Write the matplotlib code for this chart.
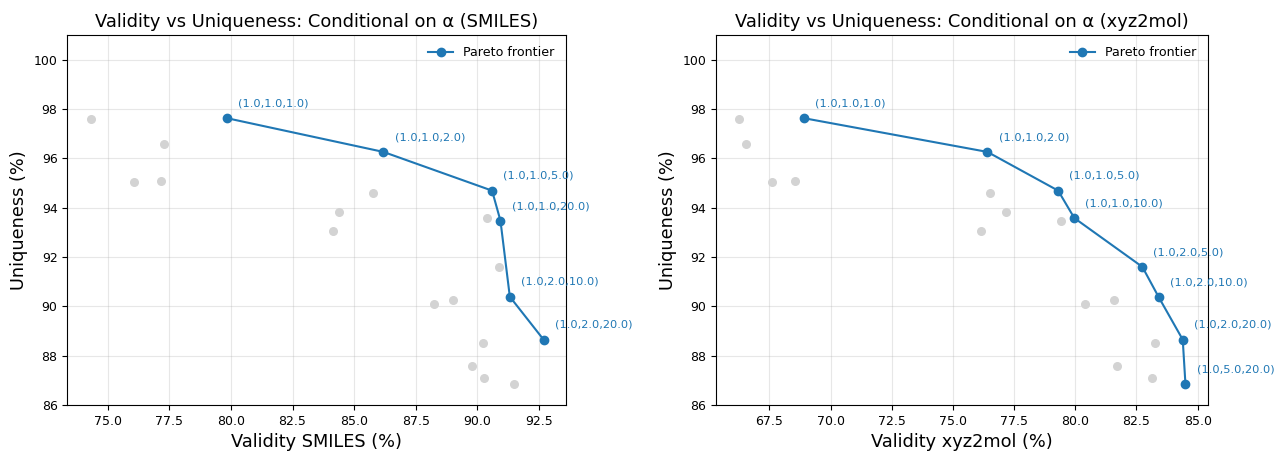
import matplotlib
matplotlib.use("Agg")
import matplotlib.pyplot as plt

BLUE = "#1f77b4"
GRAY = "#d3d3d3"

# SMILES panel
smiles_pareto_x = [79.83, 86.19, 90.60, 90.94, 91.32, 92.69]
smiles_pareto_y = [97.63, 96.26, 94.69, 93.47, 90.39, 88.65]
smiles_pareto_labels = ["(1.0,1.0,1.0)", "(1.0,1.0,2.0)", "(1.0,1.0,5.0)",
                        "(1.0,1.0,20.0)", "(1.0,2.0,10.0)", "(1.0,2.0,20.0)"]
smiles_other_x = [74.31, 77.27, 76.08, 77.15, 85.76, 84.39, 84.16, 90.39,
                  90.90, 88.25, 89.03, 90.25, 89.79, 90.28, 91.50]
smiles_other_y = [97.59, 96.59, 95.04, 95.09, 94.60, 93.83, 93.06, 93.59,
                  91.61, 90.11, 90.24, 88.51, 87.60, 87.11, 86.87]

# xyz2mol panel
xyz_pareto_x = [68.90, 76.41, 79.30, 79.96, 82.74, 83.41, 84.39, 84.50]
xyz_pareto_y = [97.63, 96.26, 94.69, 93.58, 91.60, 90.37, 88.65, 86.86]
xyz_pareto_labels = ["(1.0,1.0,1.0)", "(1.0,1.0,2.0)", "(1.0,1.0,5.0)",
                     "(1.0,1.0,10.0)", "(1.0,2.0,5.0)", "(1.0,2.0,10.0)",
                     "(1.0,2.0,20.0)", "(1.0,5.0,20.0)"]
xyz_other_x = [66.25, 66.56, 67.62, 68.56, 76.51, 77.15, 76.16, 79.43,
               80.40, 81.58, 83.27, 81.72, 83.12]
xyz_other_y = [97.59, 96.59, 95.04, 95.09, 94.60, 93.83, 93.06, 93.47,
               90.11, 90.24, 88.51, 87.60, 87.11]


def panel(ax, ox, oy, px, py, labels, name, xlim):
    ax.scatter(ox, oy, s=30, color=GRAY, zorder=2)
    ax.plot(px, py, "-o", color=BLUE, linewidth=1.5, markersize=6,
            label="Pareto frontier", zorder=3)
    for x, y, lab in zip(px, py, labels):
        ax.annotate(lab, (x, y), xytext=(8, 7), textcoords="offset points",
                    fontsize=8.2, color=BLUE, ha="left", va="bottom")
    ax.set_xlim(*xlim)
    ax.set_ylim(86, 101)
    ax.set_xlabel(f"Validity {name} (%)", fontsize=12.8)
    ax.set_ylabel("Uniqueness (%)", fontsize=12.8)
    ax.set_title(f"Validity vs Uniqueness: Conditional on α ({name})", fontsize=12.9)
    ax.tick_params(labelsize=9)
    ax.grid(alpha=0.3)
    ax.legend(frameon=False, loc="upper right", fontsize=9.1)


fig = plt.figure(figsize=(12.83, 4.51), dpi=100)
W, H = 1283, 451
ax1 = fig.add_axes([67.3 / W, 1 - 405 / H, 498.7 / W, 370 / H])
ax2 = fig.add_axes([716 / W, 1 - 405 / H, 491.7 / W, 370 / H])
panel(ax1, smiles_other_x, smiles_other_y, smiles_pareto_x, smiles_pareto_y,
      smiles_pareto_labels, "SMILES", (73.36, 93.6))
panel(ax2, xyz_other_x, xyz_other_y, xyz_pareto_x, xyz_pareto_y,
      xyz_pareto_labels, "xyz2mol", (65.32, 85.41))
fig.savefig("out.png")
